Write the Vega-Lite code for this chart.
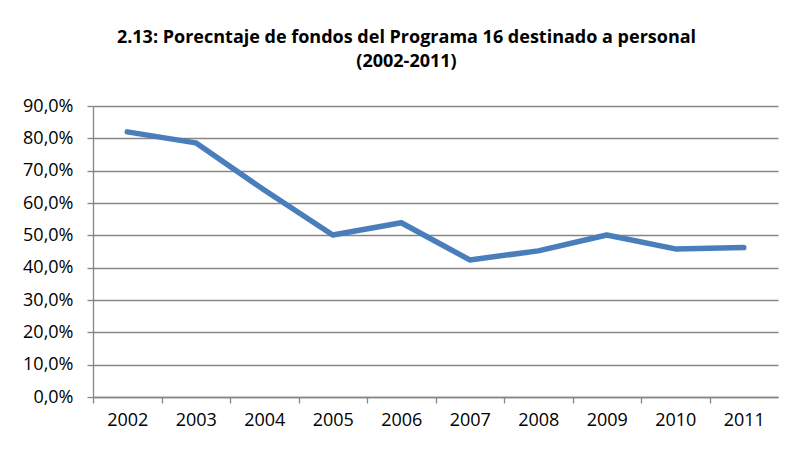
{
  "$schema": "https://vega.github.io/schema/vega-lite/v6.json",
  "width": 685,
  "height": 291,
  "autosize": {"type": "none"},
  "padding": {"left": 93, "top": 106, "right": 28, "bottom": 55},
  "background": "white",
  "title": {
    "text": ["2.13: Porecntaje de fondos del Programa 16 destinado a personal", "(2002-2011)"],
    "font": "Open Sans",
    "fontSize": 18,
    "fontWeight": "bold",
    "color": "#000000",
    "anchor": "middle",
    "frame": "group",
    "dx": -29,
    "offset": 26,
    "lineHeight": 24
  },
  "data": {
    "values": [
      {"year": "2002", "pct": 0.820},
      {"year": "2003", "pct": 0.786},
      {"year": "2004", "pct": 0.640},
      {"year": "2005", "pct": 0.501},
      {"year": "2006", "pct": 0.539},
      {"year": "2007", "pct": 0.424},
      {"year": "2008", "pct": 0.452},
      {"year": "2009", "pct": 0.501},
      {"year": "2010", "pct": 0.458},
      {"year": "2011", "pct": 0.462}
    ]
  },
  "mark": {"type": "line", "color": "#4A7EBB", "strokeWidth": 5.5, "strokeCap": "round", "strokeJoin": "round"},
  "encoding": {
    "x": {
      "field": "year",
      "type": "ordinal",
      "scale": {"type": "point", "padding": 0.5},
      "axis": {
        "title": null,
        "labelAngle": 0,
        "labelFont": "Open Sans",
        "labelFontSize": 18,
        "labelColor": "#000000",
        "domainColor": "#868686",
        "domainWidth": 1.3,
        "tickColor": "#868686",
        "tickWidth": 1.3,
        "tickSize": 6,
        "tickOffset": -34.25,
        "labelOffset": 34.25,
        "labelPadding": 8,
        "grid": false
      }
    },
    "y": {
      "field": "pct",
      "type": "quantitative",
      "scale": {"domain": [0, 0.9], "nice": false, "zero": true},
      "axis": {
        "title": null,
        "values": [0, 0.1, 0.2, 0.3, 0.4, 0.5, 0.6, 0.7, 0.8, 0.9],
        "labelExpr": "replace(format(datum.value, '.1%'), '.', ',')",
        "labelFont": "Open Sans",
        "labelFontSize": 18,
        "labelColor": "#000000",
        "labelPadding": 14,
        "domainColor": "#868686",
        "domainWidth": 1.3,
        "tickColor": "#868686",
        "tickWidth": 1.3,
        "tickSize": 6,
        "grid": true,
        "gridColor": "#868686",
        "gridWidth": 1.3
      }
    }
  },
  "config": {"view": {"stroke": null}}
}
